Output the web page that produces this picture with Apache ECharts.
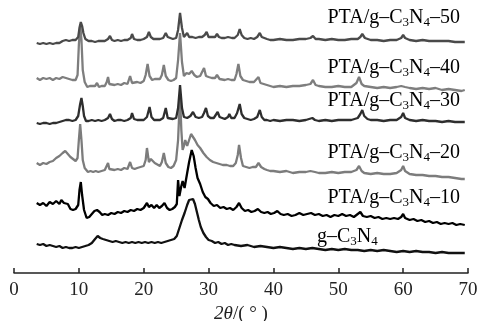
<!DOCTYPE html>
<html>
<head>
<meta charset="utf-8">
<script src="https://cdn.jsdelivr.net/npm/echarts@6/dist/echarts.min.js"></script>
<style>
  html, body { margin: 0; padding: 0; background: #fff; }
  #chart { width: 479px; height: 321px; }
</style>
</head>
<body>
<div id="chart"></div>
<script>
// XRD patterns, stacked; each point is [2theta, plotted intensity incl. offset]
var gC3N4 = [[3.5,29],[4,28],[4.5,29],[5,27],[5.5,28],[6,27],[6.5,26],[7,27],[7.5,25],[8,26],[8.5,25],[9,25],[9.5,26],[10,25],[10.5,26],[11,27],[11.5,28],[12,30],[12.5,34],[12.9,37],[13.3,35],[13.7,34],[14.2,33],[14.7,32],[15.2,31],[15.7,32],[16.2,31],[16.7,30],[17.2,31],[17.7,30],[18.2,31],[18.7,30],[19.2,31],[19.7,30],[20.2,31],[20.7,30],[21.2,31],[21.7,30],[22.2,31],[22.7,30],[23.2,31],[23.7,32],[24.2,33],[24.7,34],[25.1,37],[25.5,45],[25.9,53],[26.3,60],[26.7,68],[27,73],[27.3,75],[27.6,74],[27.9,69],[28.2,61],[28.5,53],[28.8,46],[29.2,40],[29.6,36],[30,33],[30.5,32],[31,30],[31.5,31],[32,29],[32.5,30],[33,28],[33.5,29],[34,28],[35,27],[36,28],[37,26],[38,27],[39,26],[40,25],[41,26],[42,25],[43,24],[44,25],[45,24],[46,25],[47,24],[48,23],[49,24],[50,23],[51,24],[52,23],[53,23],[54,22],[55,23],[56,22],[57,23],[58,22],[59,21],[60,22],[61,21],[62,22],[63,21],[64,21],[65,20],[66,21],[67,20],[68,20],[69,20],[69.5,20]];

var pta10 = [[3.5,70],[4,68],[4.5,70],[5,67],[5.5,71],[6,69],[6.5,72],[7,69],[7.3,73],[7.7,70],[8,72],[8.3,69],[8.7,64],[9.1,63],[9.5,64],[9.9,68],[10.1,83],[10.3,91],[10.5,78],[10.8,63],[11.2,55],[11.6,56],[12,59],[12.4,62],[12.8,63],[13.2,61],[13.6,58],[14,59],[14.5,58],[15,60],[15.5,59],[16,61],[16.5,60],[17,62],[17.5,61],[18,63],[18.5,62],[19,64],[19.5,63],[20,65],[20.5,70],[20.8,66],[21.2,68],[21.6,65],[22,68],[22.4,65],[22.8,67],[23.2,70],[23.6,65],[24,63],[24.4,64],[24.8,66],[25.1,69],[25.3,93],[25.5,77],[25.8,87],[26,92],[26.3,85],[26.7,100],[27,111],[27.4,123],[27.7,117],[28,105],[28.3,95],[28.7,89],[29.1,81],[29.5,76],[29.9,74],[30.3,70],[30.8,67],[31.3,68],[31.8,65],[32.3,66],[32.8,64],[33.3,65],[33.8,63],[34.3,66],[34.7,70],[35.1,65],[35.6,62],[36.1,63],[36.6,61],[37.1,62],[37.6,64],[38.1,61],[38.6,60],[39.1,61],[39.6,59],[40.1,60],[40.6,62],[41.1,59],[41.6,58],[42.2,59],[42.8,57],[43.4,58],[44,60],[44.6,58],[45.2,59],[45.8,60],[46.4,58],[47,59],[47.6,57],[48.2,58],[48.8,56],[49.4,58],[50,57],[50.6,59],[51.2,57],[51.8,58],[52.4,56],[53,59],[53.4,61],[53.8,57],[54.4,56],[55,57],[55.6,55],[56.2,56],[56.8,54],[57.4,55],[58,54],[58.6,55],[59.2,54],[59.7,56],[60,59],[60.3,55],[61,53],[61.6,54],[62.2,52],[62.8,53],[63.4,51],[64,52],[64.6,50],[65.2,51],[65.8,49],[66.4,50],[67,49],[67.6,50],[68.2,48],[68.8,49],[69.5,48]];

var pta20 = [[3.5,110],[4,108],[4.5,110],[5,109],[5.5,111],[6,112],[6.5,115],[7,117],[7.5,120],[7.9,122],[8.3,119],[8.7,116],[9.1,114],[9.5,112],[9.8,115],[10,133],[10.2,149],[10.4,133],[10.6,113],[10.9,105],[11.4,101],[11.8,102],[12.2,101],[12.6,102],[13,101],[13.5,102],[14,103],[14.3,105],[14.5,110],[14.7,104],[15,102],[15.5,103],[16,104],[16.5,103],[17,105],[17.5,104],[17.9,111],[18.2,105],[18.6,104],[19,105],[19.5,106],[20,107],[20.3,113],[20.5,125],[20.8,111],[21.1,114],[21.4,116],[21.7,110],[22,108],[22.5,107],[22.8,111],[23.1,120],[23.4,110],[23.8,106],[24.2,105],[24.6,107],[25,113],[25.3,133],[25.6,178],[25.8,143],[26,123],[26.2,127],[26.4,133],[26.7,127],[27,133],[27.3,139],[27.6,140],[27.9,133],[28.3,128],[28.7,125],[29.2,120],[29.7,116],[30.2,113],[30.7,111],[31.2,110],[31.7,109],[32.2,108],[32.8,108],[33.3,107],[33.8,107],[34.2,110],[34.5,118],[34.7,128],[35,115],[35.3,107],[35.8,106],[36.3,105],[36.8,106],[37.3,106],[37.7,110],[38.1,106],[38.6,104],[39,103],[39.5,102],[40,102],[41,101],[42,102],[43,100],[44,101],[45,101],[45.7,102],[46,104],[46.4,101],[47,100],[48,100],[49,101],[50,100],[51,101],[52,101],[52.8,103],[53.2,107],[53.6,102],[54,100],[55,99],[56,100],[57,99],[58,99],[59,100],[59.7,103],[60,107],[60.3,102],[61,99],[62,98],[63,98],[64,97],[65,97],[66,96],[67,96],[68,95],[69,94],[69.5,94]];

var pta30 = [[3.5,150],[4,149],[4.5,150],[5,150],[5.5,149],[6,150],[6.5,150],[7,151],[7.5,152],[8,153],[8.5,153],[9,152],[9.5,153],[9.9,157],[10.2,169],[10.4,175],[10.6,167],[10.8,157],[11.1,152],[11.5,152],[12,153],[12.5,152],[13,153],[13.5,152],[14,153],[14.5,155],[14.8,159],[15.1,154],[15.5,152],[16,153],[16.5,153],[17,152],[17.5,153],[18,155],[18.2,160],[18.5,154],[19,153],[19.5,153],[20,153],[20.5,156],[20.9,166],[21.2,156],[21.6,153],[22,153],[22.5,153],[23,155],[23.4,165],[23.7,155],[24,153],[24.5,154],[25,155],[25.3,165],[25.6,188],[25.9,165],[26.2,156],[26.7,155],[27.2,157],[27.6,161],[28,156],[28.5,155],[29,156],[29.3,160],[29.6,165],[29.9,157],[30.3,155],[30.8,155],[31.1,157],[31.4,161],[31.7,156],[32,155],[32.5,154],[33,156],[33.2,159],[33.5,155],[34,155],[34.4,160],[34.8,169],[35.1,159],[35.5,155],[36,154],[36.5,153],[37,154],[37.5,156],[37.9,163],[38.2,156],[38.6,153],[39,153],[39.5,152],[40,153],[41,152],[42,153],[43,153],[44,152],[45,153],[46,155],[46.4,153],[47,152],[48,153],[49,152],[50,153],[51,153],[52,153],[53,155],[53.4,159],[53.7,163],[54,157],[54.5,154],[55,153],[56,153],[57,152],[58,153],[59,153],[59.7,156],[60,160],[60.3,155],[61,153],[62,152],[63,153],[64,152],[65,152],[66,151],[67,152],[68,151],[69,151],[69.5,151]];

var pta40 = [[3.5,195],[4,193],[4.5,195],[5,194],[5.5,195],[6,193],[6.5,195],[7,194],[7.5,196],[8,195],[8.5,194],[9,193],[9.5,193],[9.8,198],[10,228],[10.2,249],[10.4,233],[10.6,203],[10.9,191],[11.3,186],[11.7,187],[12,186],[12.5,187],[12.8,190],[13.1,186],[13.5,187],[14,187],[14.3,191],[14.5,196],[14.7,189],[15,187],[15.5,188],[16,189],[16.5,188],[17,190],[17.5,189],[17.9,197],[18.2,190],[18.5,190],[19,191],[19.5,190],[20,192],[20.3,198],[20.6,209],[20.9,197],[21.3,193],[21.7,194],[22,193],[22.5,194],[22.8,198],[23.1,208],[23.4,197],[23.8,193],[24.2,192],[24.6,193],[25,195],[25.3,213],[25.6,240],[25.9,211],[26.2,197],[26.6,200],[27,199],[27.4,202],[27.8,198],[28.2,196],[28.7,197],[29,199],[29.3,205],[29.6,197],[30,196],[30.5,195],[31,195],[31.3,198],[31.7,194],[32,193],[32.5,193],[33,194],[33.5,193],[34,193],[34.3,199],[34.6,209],[34.9,197],[35.3,193],[35.8,192],[36.3,191],[37,191],[37.3,193],[37.7,196],[38,190],[38.5,189],[39,188],[39.5,187],[40,186],[41,187],[42,186],[43,187],[44,187],[45,188],[45.7,189],[46.1,193],[46.5,188],[47,187],[48,186],[49,186],[50,187],[51,186],[52,186],[52.8,190],[53.2,196],[53.6,189],[54,187],[55,186],[56,185],[57,186],[58,185],[59,186],[59.7,187],[60,189],[60.3,186],[61,185],[62,184],[63,185],[64,184],[65,185],[66,183],[67,184],[68,183],[69,182],[69.5,183]];

var pta50 = [[3.5,230],[4,229],[4.5,230],[5,229],[5.5,230],[6,229],[6.5,230],[7,230],[7.5,232],[8,233],[8.5,232],[9,233],[9.5,233],[9.9,236],[10.1,245],[10.3,251],[10.5,247],[10.7,240],[11,234],[11.5,232],[12,232],[12.5,231],[13,232],[13.5,232],[14,232],[14.5,234],[14.8,237],[15.1,233],[15.5,232],[16,233],[16.5,232],[17,233],[17.5,233],[18,235],[18.2,239],[18.5,234],[19,233],[19.5,233],[20,234],[20.5,236],[20.8,241],[21.1,236],[21.5,234],[22,234],[22.5,234],[23,235],[23.4,240],[23.7,236],[24,234],[24.5,234],[25,235],[25.3,243],[25.6,260],[25.9,245],[26.2,236],[26.7,240],[27,236],[27.5,236],[28,235],[28.5,236],[29,236],[29.4,238],[29.7,241],[30,236],[30.5,236],[31,236],[31.3,239],[31.6,236],[32,235],[32.5,235],[33,236],[33.3,238],[33.6,235],[34,235],[34.5,238],[34.8,244],[35.1,238],[35.5,235],[36,234],[36.5,235],[37,234],[37.5,236],[37.9,240],[38.2,236],[38.5,234],[39,234],[39.5,233],[40,233],[41,234],[42,233],[43,233],[44,234],[45,234],[45.7,235],[46.1,237],[46.5,234],[47,234],[48,233],[49,234],[50,233],[51,233],[52,234],[53,234],[53.4,236],[53.7,239],[54.1,235],[55,233],[56,233],[57,232],[58,233],[59,233],[59.7,235],[60,238],[60.3,235],[61,233],[62,232],[63,233],[64,232],[65,232],[66,232],[67,232],[68,231],[69,231],[69.5,231]];

var seriesNames = ['g-C3N4', 'PTA/g-C3N4-10', 'PTA/g-C3N4-20', 'PTA/g-C3N4-30', 'PTA/g-C3N4-40', 'PTA/g-C3N4-50'];
var seriesData = [gC3N4, pta10, pta20, pta30, pta40, pta50];
var seriesColors = ['#111111', '#000000', '#7c7c7c', '#2e2e2e', '#7e7e7e', '#4a4a4a'];
var labelTexts = [
    '{n|g\u2013C}{s|3}{n|N}{s|4}',
    '{n|PTA/g\u2013C}{s|3}{n|N}{s|4}{n|\u201310}',
    '{n|PTA/g\u2013C}{s|3}{n|N}{s|4}{n|\u201320}',
    '{n|PTA/g\u2013C}{s|3}{n|N}{s|4}{n|\u201330}',
    '{n|PTA/g\u2013C}{s|3}{n|N}{s|4}{n|\u201340}',
    '{n|PTA/g\u2013C}{s|3}{n|N}{s|4}{n|\u201350}'
];
var labelY = [239, 200, 155, 103, 70, 20];

var serif = '"Liberation Serif", "Times New Roman", serif';
var chart = echarts.init(document.getElementById('chart'));

var seriesList = [];
for (var i = 0; i < seriesData.length; i++) {
    seriesList.push({
        type: 'line',
        name: seriesNames[i],
        data: seriesData[i],
        showSymbol: false,
        smooth: false,
        lineStyle: { color: seriesColors[i], width: 2.3 },
        z: 2 + i
    });
}

var richText = {
    n: { fontFamily: serif, fontSize: 20, color: '#222', lineHeight: 22 },
    s: { fontFamily: serif, fontSize: 13, color: '#222', lineHeight: 12, verticalAlign: 'bottom' }
};

var graphics = [];
for (var j = 0; j < labelTexts.length; j++) {
    graphics.push({
        type: 'text',
        right: j === 0 ? null : 19,
        left: j === 0 ? 317 : null,
        top: labelY[j] - 12,
        z: 20,
        style: {
            text: labelTexts[j],
            rich: richText
        }
    });
}

var option = {
    animation: false,
    backgroundColor: '#fff',
    grid: { left: 14, right: 11, top: 0, bottom: 48, containLabel: false, outerBoundsMode: 'none' },
    xAxis: {
        type: 'value',
        min: 0,
        max: 70,
        interval: 10,
        name: '{i|2\u03b8}{n|/( \u00b0 )}',
        nameLocation: 'middle',
        nameGap: 27,
        nameTextStyle: {
            rich: {
                i: { fontFamily: serif, fontSize: 19, fontStyle: 'italic', color: '#222' },
                n: { fontFamily: serif, fontSize: 19, color: '#222' }
            }
        },
        axisLine: { show: true, onZero: false, lineStyle: { color: '#222', width: 1.5 } },
        axisTick: { show: true, inside: true, length: 5, lineStyle: { color: '#222', width: 1.5 } },
        axisLabel: { fontFamily: serif, fontSize: 19, color: '#222', margin: 8 },
        splitLine: { show: false }
    },
    yAxis: {
        type: 'value',
        min: 0,
        max: 273,
        show: false
    },
    graphic: graphics,
    series: seriesList
};
chart.setOption(option);
</script>
</body>
</html>
